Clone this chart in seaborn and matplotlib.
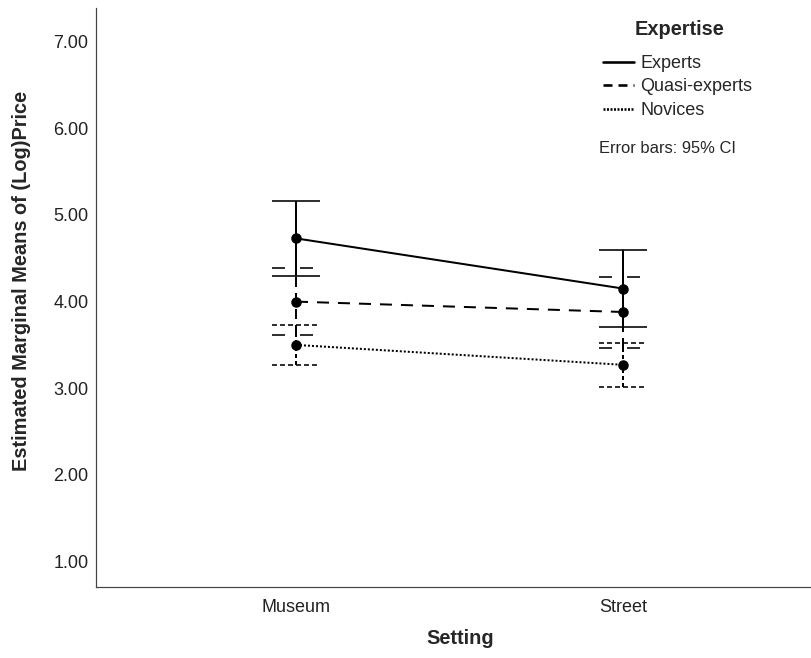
import numpy as np
import pandas as pd
import seaborn as sns
import matplotlib.pyplot as plt
from matplotlib.lines import Line2D

# estimated marginal means and 95% CI
settings = ["Museum", "Street"]
groups = ["Experts", "Quasi-experts", "Novices"]

experts_mean = [4.73, 4.15]
experts_lo = [4.29, 3.71]
experts_hi = [5.16, 4.60]

quasi_mean = [4.00, 3.88]
quasi_lo = [3.61, 3.46]
quasi_hi = [4.39, 4.28]

novice_mean = [3.50, 3.27]
novice_lo = [3.27, 3.02]
novice_hi = [3.73, 3.52]

yticks = [1, 2, 3, 4, 5, 6, 7]

#%%
sns.set_style("white")
plt.rcParams['font.family'] = ['Liberation Sans', 'DejaVu Sans']
plt.rcParams['lines.scale_dashes'] = False

PX = 0.72  # points per pixel at dpi 100

df = pd.DataFrame({
    "Setting": settings * 3,
    "Expertise": np.repeat(groups, len(settings)),
    "mean": experts_mean + quasi_mean + novice_mean,
    "lo": experts_lo + quasi_lo + novice_lo,
    "hi": experts_hi + quasi_hi + novice_hi,
})

line_styles = ['-', (0, (12 * PX, 9 * PX)), (0, (2 * PX, 2 * PX))]
cap_styles = ['-', (0, (13 * PX, 15 * PX)), (0, (5 * PX, 3 * PX))]
stem_styles = ['-', (0, (10 * PX, 6 * PX)), (0, (4 * PX, 3 * PX))]

fig = plt.figure(figsize=(8.12, 6.58), dpi=100)
ax = fig.add_axes([95.7 / 812, 1 - 586.7 / 658, 1 - 95.7 / 812, (586.7 - 8.3) / 658])

sns.pointplot(data=df, x="Setting", y="mean", hue="Expertise",
              palette=['black'] * 3, linestyles=line_styles, markers='o',
              errorbar=None, dodge=False, legend=False,
              markersize=9 * PX, linewidth=2 * PX, ax=ax)

# error bars with a line style per group
xpos = np.arange(len(settings))
cap = 0.0733
for g, cs, ss in zip(groups, cap_styles, stem_styles):
    d = df[df["Expertise"] == g]
    ax.vlines(xpos, d["lo"], d["hi"], colors='black', linewidth=2 * PX, linestyles=[ss])
    ax.hlines(d["lo"], xpos - cap, xpos + cap, colors='black', linewidth=1.6 * PX, linestyles=[cs])
    ax.hlines(d["hi"], xpos - cap, xpos + cap, colors='black', linewidth=1.6 * PX, linestyles=[cs])

ax.set_xlim(-0.6116, 1.5756)
ax.set_ylim(0.709, 7.386)
ax.set_yticks(yticks)
ax.set_yticklabels([f"{v:.2f}" for v in yticks])

sns.despine(ax=ax)
for s in ['left', 'bottom']:
    ax.spines[s].set_color('#444444')
    ax.spines[s].set_linewidth(1.2 * PX)
ax.tick_params(axis='both', length=0, labelsize=18 * PX, colors='#222222')
ax.tick_params(axis='y', pad=5.3)
ax.tick_params(axis='x', pad=9)

ax.set_xlabel("Setting", fontsize=20 * PX, fontweight='bold', va='center')
ax.xaxis.set_label_coords(0.5086, -0.0892)
ax.set_ylabel("Estimated Marginal Means of (Log)Price", fontsize=20 * PX,
              fontweight='bold', va='center')
ax.yaxis.set_label_coords(-0.1029, 0.5285)

# legend: title as separate text, entries as line handles only
fig.text(680 / 812, 1 - 29.3 / 658, "Expertise", fontsize=20 * PX,
         fontweight='bold', ha='center', va='center')
handles = [Line2D([0], [0], color='black', linewidth=2.6 * PX, linestyle=ls)
           for ls in ['-', (0, (9 * PX, 6 * PX)), (0, (2 * PX, 1.5 * PX))]]
leg = ax.legend(handles, groups, frameon=False,
                loc='upper left', bbox_to_anchor=(603.3 / 812, 1 - 55 / 658),
                bbox_transform=fig.transFigure, fontsize=18 * PX,
                handlelength=1.72, handletextpad=0.32, labelspacing=0.36,
                borderpad=0, borderaxespad=0)

fig.text(599 / 812, 1 - 148.3 / 658, "Error bars: 95% CI", fontsize=16.5 * PX,
         ha='left', va='center')

plt.savefig("out.png", dpi=100)
